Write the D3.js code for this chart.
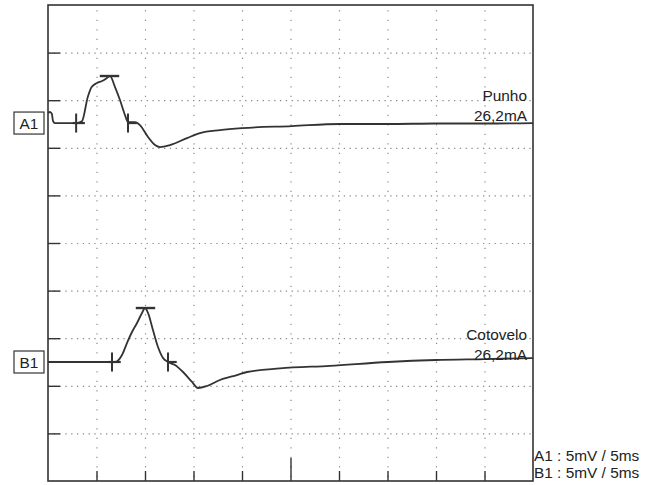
<!DOCTYPE html>
<html><head><meta charset="utf-8">
<script src="https://cdn.jsdelivr.net/npm/d3@7"></script>
<style>
html,body{margin:0;padding:0;background:#fff;}
svg{display:block;font-family:"Liberation Sans",Arial,sans-serif;}
</style></head>
<body><svg id="c" width="658" height="485"></svg>
<script>
// time in ms, amplitude in mV relative to each channel baseline
const traceA_t = [0,0.2,0.4,0.52,0.72,2.9,3.5,4.1,4.5,5.05,5.57,6.08,6.39,6.91,7.42,7.94,8.25,8.97,9.48,10.31,11.03,11.55,12.58,14.33,15.67,17.73,20.0,25.15,30.1,35.05,40.0,45.05,50];
const traceA_v = [1.05,1.16,0.95,0.21,0,0,0.2,2.73,3.78,4.2,4.41,4.73,4.94,3.78,2.42,0.84,0.1,0.1,-0.21,-1.47,-2.31,-2.52,-2.31,-1.58,-1.05,-0.74,-0.53,-0.32,-0.1,-0.1,-0.05,-0.05,0];
const traceB_t = [0,6.6,6.91,7.63,8.14,8.66,9.18,9.69,10.0,10.31,10.82,11.34,11.86,12.37,13.09,13.92,14.85,15.46,16.39,17.73,19.48,20.52,23.92,29.07,35.05,40.0,45.05,50];
const traceB_v = [0,0,0,0.74,1.99,3.15,4.1,5.15,5.67,5.15,3.36,1.58,0.42,0,-0.32,-1.05,-2.1,-2.73,-2.52,-1.89,-1.37,-1.05,-0.68,-0.4,0,0.21,0.31,0.42];
const channels = ["A1","B1"];
const channelOffset = [12.6,-12.5];        // mV baseline of each channel
const markerA = {onset:2.9, peakT:6.34, peakV:4.94, end:8.25};
const markerB = {onset:6.6, peakT:10.05, peakV:5.67, end:12.37};
const siteLabels = ["Punho","Cotovelo"];
const currentLabels = ["26,2mA","26,2mA"];
const scaleLabels = ["A1 : 5mV / 5ms","B1 : 5mV / 5ms"];
const xTicks = [5,10,15,20,25,30,35,40,45];
const yTicks = [-20,-15,-10,-5,0,5,10,15,20];

const svg = d3.select("#c");
const L=48,R=533,T=5,B=481;
const x = d3.scaleLinear().domain([0,50]).range([L,R]);
const y = d3.scaleLinear().domain([-25,25]).range([B,T]);
const ink="#333";
const fs=15.4;

// grid
const gx = svg.append("g").attr("transform",`translate(0,${B})`)
  .call(d3.axisBottom(x).tickValues(xTicks).tickSize(-(B-T)).tickFormat(""));
gx.select(".domain").remove();
gx.selectAll("line").attr("stroke","#8a8a8a").attr("stroke-width",1.2)
  .attr("stroke-dasharray","1.3,8.2").attr("stroke-dashoffset",-4);
const gy = svg.append("g").attr("transform",`translate(${L},0)`)
  .call(d3.axisLeft(y).tickValues(yTicks).tickSize(-(R-L)).tickFormat(""));
gy.select(".domain").remove();
gy.selectAll("line").attr("stroke","#8a8a8a").attr("stroke-width",1.2)
  .attr("stroke-dasharray","1.3,4.5");

// inner ticks
const tl = svg.append("g").attr("transform",`translate(${L},0)`)
  .call(d3.axisRight(y).tickValues(yTicks).tickSize(12).tickFormat(""));
tl.select(".domain").remove();
tl.selectAll("line").attr("stroke",ink).attr("stroke-width",1.4);
const tb = svg.append("g").attr("transform",`translate(0,${B})`)
  .call(d3.axisTop(x).tickValues(xTicks).tickSize(10).tickFormat(""));
tb.select(".domain").remove();
tb.selectAll("line").attr("stroke",ink).attr("stroke-width",1.4)
  .attr("y2",d=>d===25?-23:-10);

// frame
svg.append("rect").attr("x",L).attr("y",T).attr("width",R-L).attr("height",B-T)
  .attr("fill","none").attr("stroke",ink).attr("stroke-width",1.6);

const traces=[[traceA_t,traceA_v],[traceB_t,traceB_v]];
const markers=[markerA,markerB];
traces.forEach(([ts,vs],i)=>{
  const off=channelOffset[i];
  const line=d3.line().x(d=>x(d[0])).y(d=>y(d[1]+off)).curve(d3.curveMonotoneX);
  svg.append("path").datum(ts.map((t,k)=>[t,vs[k]]))
    .attr("d",line).attr("fill","none").attr("stroke",ink).attr("stroke-width",1.8);
  const m=markers[i];
  [m.onset,m.end].forEach((t,k)=>{
    svg.append("line").attr("x1",x(t)).attr("x2",x(t)).attr("y1",y(off+1)).attr("y2",y(off-1))
      .attr("stroke",ink).attr("stroke-width",2);
    svg.append("line").attr("x1",x(t-(k?0:0.35))).attr("x2",x(t+0.9)).attr("y1",y(off)).attr("y2",y(off))
      .attr("stroke",ink).attr("stroke-width",2.2);
  });
  svg.append("line").attr("x1",x(m.peakT-1)).attr("x2",x(m.peakT+1))
    .attr("y1",y(off+m.peakV)).attr("y2",y(off+m.peakV)).attr("stroke",ink).attr("stroke-width",2.4);
  // channel box
  const cy=y(off);
  svg.append("rect").attr("x",14).attr("y",cy-11).attr("width",30).attr("height",22)
    .attr("fill","#fff").attr("stroke",ink).attr("stroke-width",1.2);
  svg.append("text").attr("x",29).attr("y",cy+5.5).attr("text-anchor","middle")
    .attr("font-size",fs).attr("fill","#222").text(channels[i]);
  // labels
  svg.append("text").attr("x",R-6).attr("y",cy-22).attr("text-anchor","end")
    .attr("font-size",fs).attr("fill","#222").text(siteLabels[i]);
  svg.append("text").attr("x",R-6).attr("y",cy-2).attr("text-anchor","end")
    .attr("font-size",fs).attr("fill","#222").text(currentLabels[i]);
});
scaleLabels.forEach((s,i)=>{
  svg.append("text").attr("x",R+1).attr("y",461+i*17).attr("font-size",fs)
    .attr("fill","#222").text(s);
});
</script></body></html>
